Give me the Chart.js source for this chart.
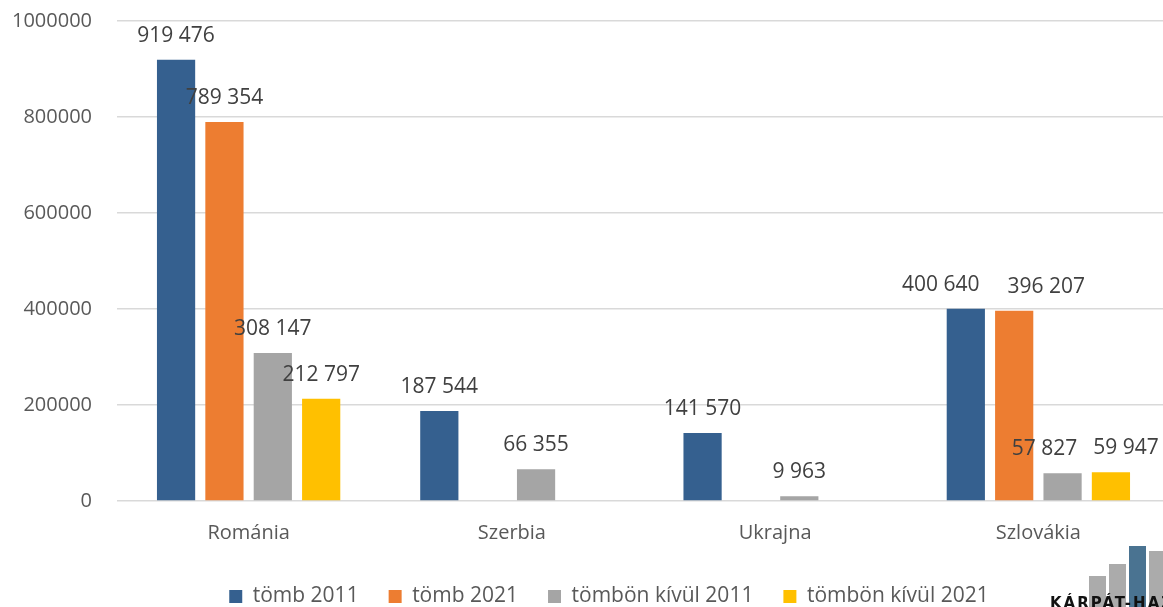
<!DOCTYPE html>
<html>
<head>
<meta charset="utf-8">
<script src="https://cdn.jsdelivr.net/npm/chart.js"></script>
<style>
  html, body { margin: 0; padding: 0; background: #fff; overflow: hidden; }
  #wrap { position: relative; width: 1170px; height: 617px; }
  .logo-bar { position: absolute; top: 0; }
  #logo-text {
    position: absolute; left: 1050px; top: 594px;
    font: bold 15px "DejaVu Sans", sans-serif; letter-spacing: 2px;
    color: #111; white-space: nowrap;
  }
</style>
</head>
<body>
<div id="wrap">
  <canvas id="chart"></canvas>
  <div class="logo-bar" style="left:1089px;top:576px;width:17px;height:40px;background:#ababab"></div>
  <div class="logo-bar" style="left:1109px;top:564px;width:17px;height:52px;background:#ababab"></div>
  <div class="logo-bar" style="left:1129px;top:546px;width:17px;height:70px;background:#4a7391"></div>
  <div class="logo-bar" style="left:1149px;top:551px;width:17px;height:65px;background:#ababab"></div>
  <div id="logo-text">KÁRPÁT-HAZA</div>
</div>
<script>
// adatok
const countries = ["Románia", "Szerbia", "Ukrajna", "Szlovákia"];
const seriesNames = ["tömb 2011", "tömb 2021", "tömbön kívül 2011", "tömbön kívül 2021"];
const tomb2011 = [919476, 187544, 141570, 400640];
const tomb2021 = [789354, null, null, 396207];
const kivul2011 = [308147, 66355, 9963, 57827];
const kivul2021 = [212797, null, null, 59947];
const yTicks = [0, 200000, 400000, 600000, 800000, 1000000];

const colors = ["#35608f", "#ed7d31", "#a5a5a5", "#ffc000"];
// manual label shifts (px) per category, per series - Szlovákia labels were moved by hand
const labelShift = [[0, 0, 0, 0], [0, 0, 0, 0], [0, 0, 0, 0], [-25, 32, -18, 15]];

const FONT = '"Open Sans", sans-serif';

function fmt(v) {
    return String(v).replace(/\B(?=(\d{3})+(?!\d))/g, " ");
}

const valueLabels = {
    id: "valueLabels",
    afterLayout(chart) {
        // legend sits a bit right of centre in the original
        chart.legend.left += 24;
        chart.legend.right += 24;
    },
    afterDatasetsDraw(chart) {
        const ctx = chart.ctx;
        ctx.save();
        ctx.font = "21px " + FONT;
        ctx.fillStyle = "#404040";
        ctx.textAlign = "center";
        ctx.textBaseline = "middle";
        chart.data.datasets.forEach((ds, i) => {
            chart.getDatasetMeta(i).data.forEach((bar, j) => {
                const v = ds.data[j];
                if (v === null || v === undefined) return;
                ctx.fillText(fmt(v), bar.x + labelShift[j][i], bar.y - 24);
            });
        });
        ctx.restore();
    }
};

const allData = [tomb2011, tomb2021, kivul2011, kivul2021];

new Chart(document.getElementById("chart"), {
    type: "bar",
    data: {
        labels: countries,
        datasets: allData.map((d, i) => ({
            label: seriesNames[i],
            data: d,
            backgroundColor: colors[i],
            categoryPercentage: 0.735,
            barPercentage: 0.79
        }))
    },
    options: {
        responsive: true,
        maintainAspectRatio: false,
        animation: false,
        layout: { padding: { top: 21, left: 0, right: 0, bottom: 0 } },
        plugins: {
            legend: {
                position: "bottom",
                labels: {
                    font: { family: FONT, size: 21 },
                    color: "#595959",
                    boxWidth: 13,
                    boxHeight: 13,
                    padding: 30
                }
            },
            tooltip: { enabled: false }
        },
        scales: {
            x: {
                grid: { display: false },
                border: { display: false },
                ticks: { font: { family: FONT, size: 20 }, color: "#595959", padding: 12 },
                afterFit(scale) { scale.height = 55; }
            },
            y: {
                min: 0,
                max: 1000000,
                afterBuildTicks(scale) { scale.ticks = yTicks.map(v => ({ value: v })); },
                grid: {
                    color: "#d9d9d9",
                    lineWidth: 1.5,
                    drawTicks: true,
                    tickLength: 20,
                    tickColor: "rgba(0,0,0,0)"
                },
                border: { display: false },
                ticks: {
                    font: { family: FONT, size: 20 },
                    color: "#595959",
                    padding: 5,
                    callback: v => String(v)
                },
                afterFit(scale) { scale.width = 117; }
            }
        }
    },
    plugins: [valueLabels]
});
</script>
</body>
</html>
